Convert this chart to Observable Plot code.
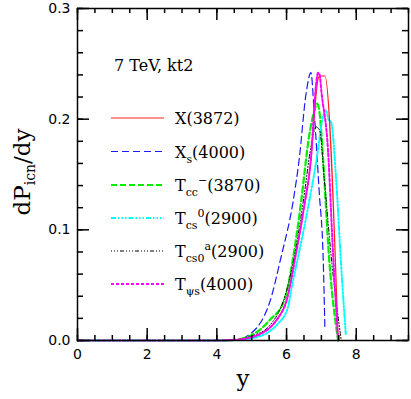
<!DOCTYPE html>
<html><head><meta charset="utf-8">
<script src="https://cdn.jsdelivr.net/npm/d3@7"></script>
<script src="https://cdn.jsdelivr.net/npm/@observablehq/plot@0.6"></script>
<style>body{margin:0;background:#fff} svg{display:block}</style>
</head><body><div id="chart"></div>
<script>
// ---- data ----
const x3872X = [0, 1, 2, 3, 4, 4.5, 5.0, 5.25, 5.5, 5.75, 6.0, 6.25, 6.5, 6.7, 6.85, 6.9, 6.95, 7.1, 7.48];
const x3872Y = [0, 0, 0, 0, 0, 0.0005, 0.003, 0.006, 0.011, 0.02, 0.036, 0.075, 0.12, 0.163, 0.223, 0.236, 0.239, 0.239, 0];

const xs4000X = [0, 1, 2, 3, 4, 4.5, 4.75, 5.0, 5.25, 5.5, 5.84, 6.19, 6.36, 6.56, 6.7, 6.79, 6.94, 7.05, 7.1];
const xs4000Y = [0, 0, 0, 0, 0, 0.0005, 0.002, 0.007, 0.016, 0.033, 0.075, 0.126, 0.163, 0.223, 0.242, 0.208, 0.133, 0.075, 0.012];

const tcc3870X = [0, 1, 2, 3, 4, 4.5, 5.0, 5.25, 5.5, 5.93, 6.19, 6.42, 6.64, 6.8, 6.88, 6.95, 7.05, 7.22, 7.48];
const tcc3870Y = [0, 0, 0, 0, 0, 0.0005, 0.005, 0.01, 0.018, 0.036, 0.075, 0.126, 0.183, 0.208, 0.214, 0.205, 0.163, 0.075, 0];

const tcs2900X = [0, 1, 2, 3, 4, 4.5, 5.0, 5.5, 5.75, 6.04, 6.13, 6.56, 6.9, 7.0, 7.13, 7.2, 7.28, 7.43, 7.57, 7.7];
const tcs2900Y = [0, 0, 0, 0, 0, 0.0003, 0.002, 0.008, 0.015, 0.03, 0.045, 0.111, 0.172, 0.195, 0.208, 0.2, 0.197, 0.142, 0.066, 0.006];

const tcs0a2900X = [0, 1, 2, 3, 4, 4.5, 5.0, 5.5, 6.0, 6.25, 6.5, 6.7, 6.85, 6.95, 7.08, 7.3, 7.57];
const tcs0a2900Y = [0, 0, 0, 0, 0, 0.0005, 0.004, 0.013, 0.045, 0.08, 0.13, 0.175, 0.193, 0.19, 0.147, 0.07, 0];

const tpsis4000X = [0, 1, 2, 3, 4, 4.5, 5.0, 5.25, 5.5, 5.75, 6.0, 6.25, 6.5, 6.7, 6.85, 6.9, 6.95, 7.0, 7.19, 7.33, 7.48];
const tpsis4000Y = [0, 0, 0, 0, 0, 0.0005, 0.003, 0.006, 0.011, 0.02, 0.036, 0.075, 0.12, 0.165, 0.232, 0.242, 0.24, 0.225, 0.172, 0.081, 0];

const legendMain = ["X", "X", "T", "T", "T", "T"];
const legendSub  = ["", "s", "cc", "cs", "cs0", "ψs"];
const legendSup  = ["", "", "−", "0", "a", ""];
const legendTail = ["(3872)", "(4000)", "(3870)", "(2900)", "(2900)", "(4000)"];

const xTicks = [0, 2, 4, 6, 8];
const xMinor = d3.range(0, 9.51, 0.5);
const yTicks = [0, 0.1, 0.2, 0.3];
const yMinor = d3.range(0, 0.3001, 0.02);
const titleText = "7 TeV, kt2";

// ---- layout ----
const W = 411, H = 399, mL = 77, mR = 3, mT = 8, mB = 59;
const innerW = W - mL - mR, innerH = H - mT - mB;

// ---- styles ----
const styles = [
  {color: "#ff2020", width: 1.2, dash: null},
  {color: "#1a1aff", width: 1.2, dash: "7,4"},
  {color: "#00ee00", width: 2.2, dash: "6,3"},
  {color: "#00ffff", width: 2, dash: "5,2,1.5,2,1.5,2,1.5,2"},
  {color: "#000000", width: 1, dash: "1,2,1,2,1,2,4,2"},
  {color: "#ff00ff", width: 2, dash: "3,2"}
];
const series = [
  [x3872X, x3872Y], [xs4000X, xs4000Y], [tcc3870X, tcc3870Y],
  [tcs2900X, tcs2900Y], [tcs0a2900X, tcs0a2900Y], [tpsis4000X, tpsis4000Y]
];

const lineMarks = series.map(([xs, ys], i) => {
  const data = xs.map((x, j) => ({x, y: ys[j]}));
  return Plot.line(data, {x: "x", y: "y", curve: "monotone-x", stroke: styles[i].color,
    strokeWidth: styles[i].width, strokeDasharray: styles[i].dash});
});
const order = [1, 2, 3, 4, 0, 5];

const tickStyle = {stroke: "black", strokeWidth: 1.5};
const plot = Plot.plot({
  width: W, height: H,
  marginLeft: mL, marginRight: mR, marginTop: mT, marginBottom: mB,
  x: {domain: [0, 9.5]},
  y: {domain: [0, 0.3]},
  style: {fontFamily: "'DejaVu Sans', sans-serif", fontSize: "14px", color: "black", background: "white"},
  marks: [
    ...order.map(i => lineMarks[i]),
    Plot.axisX(xTicks, {anchor: "bottom", tickSize: 0, tickPadding: 9, tickFormat: d => String(d), label: null}),
    Plot.axisY(yTicks, {anchor: "left", tickSize: 0, tickPadding: 7, tickFormat: d3.format(".1f"), label: null}),
    Plot.tickX(xTicks, {x: d => d, insetTop: innerH - 12, ...tickStyle}),
    Plot.tickX(xMinor, {x: d => d, insetTop: innerH - 5, ...tickStyle}),
    Plot.tickX(xTicks, {x: d => d, insetBottom: innerH - 12, ...tickStyle}),
    Plot.tickX(xMinor, {x: d => d, insetBottom: innerH - 5, ...tickStyle}),
    Plot.tickY(yTicks, {y: d => d, insetRight: innerW - 12, ...tickStyle}),
    Plot.tickY(yMinor, {y: d => d, insetRight: innerW - 6, ...tickStyle}),
    Plot.tickY(yTicks, {y: d => d, insetLeft: innerW - 12, ...tickStyle}),
    Plot.tickY(yMinor, {y: d => d, insetLeft: innerW - 6, ...tickStyle}),
    Plot.frame({stroke: "black", strokeWidth: 1.5})
  ]
});
document.getElementById("chart").appendChild(plot);

// ---- annotations, legend, axis labels ----
const svg = d3.select(plot);
const serif = "'DejaVu Serif', serif";

svg.append("text").attr("x", 114).attr("y", 71).attr("text-anchor", "start")
  .attr("font-family", serif).attr("font-size", 16).attr("fill", "black")
  .text(titleText);

const legendY = [118, 151.5, 185, 218, 251, 284];
legendMain.forEach((m, i) => {
  const y = legendY[i];
  svg.append("line").attr("x1", 111).attr("x2", 164).attr("y1", y).attr("y2", y)
    .attr("stroke", styles[i].color).attr("stroke-width", styles[i].width)
    .attr("stroke-dasharray", styles[i].dash);
  const t = svg.append("text").attr("x", 175).attr("y", y + 6).attr("text-anchor", "start")
    .attr("font-family", serif).attr("font-size", 16).attr("fill", "black");
  t.append("tspan").text(m);
  if (legendSub[i]) t.append("tspan").attr("y", y + 11).attr("font-size", 11).text(legendSub[i]);
  if (legendSup[i]) t.append("tspan").attr("y", y - 1).attr("font-size", 11).text(legendSup[i]);
  t.append("tspan").attr("y", y + 6).text(legendTail[i]);
});

// y-axis label dP_icn/dy
const yl = svg.append("text").attr("transform", "translate(30,172) rotate(-90)")
  .attr("text-anchor", "middle").attr("font-family", serif).attr("font-size", 23).attr("fill", "black");
yl.append("tspan").text("dP");
yl.append("tspan").attr("dy", 5).attr("font-size", 14).text("icn");
yl.append("tspan").attr("dy", -5).text("/dy");

// x-axis label
svg.append("text").attr("x", 243).attr("y", 386).attr("text-anchor", "middle")
  .attr("font-family", serif).attr("font-size", 23).attr("fill", "black").text("y");
</script>
</body></html>
